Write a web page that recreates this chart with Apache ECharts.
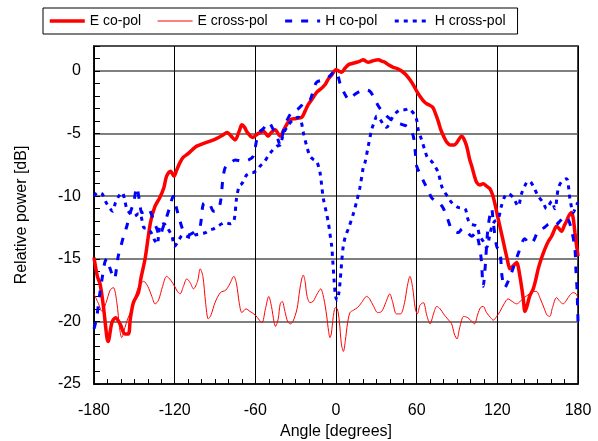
<!DOCTYPE html>
<html>
<head>
<meta charset="utf-8">
<script src="https://cdn.jsdelivr.net/npm/echarts@6/dist/echarts.min.js"></script>
<style>
    html, body { margin: 0; padding: 0; background: #fff; }
    #chart { width: 598px; height: 441px; }
</style>
</head>
<body>
<div id="chart"></div>
<script>
// angle [deg], relative power [dB]
const eCoPol = [
    [-180, -14.9], [-177.5, -16.4], [-175.5, -17.0], [-173, -18.8], [-170.5, -21.2], [-169.5, -21.6], [-166.7, -20.1],
    [-164, -19.7], [-160.6, -20.2], [-157, -21.0], [-154.4, -21.0], [-153, -19.8], [-150.7, -18.5], [-147, -17.7],
    [-145, -16.5], [-142, -15.0], [-138, -12.1], [-134.6, -10.8], [-131, -10.1], [-128, -9.3], [-126, -8.4],
    [-123, -8.0], [-120.5, -8.4], [-118.5, -7.9], [-116, -7.3], [-113.7, -6.9], [-110, -6.6], [-106, -6.2],
    [-103.6, -6.0], [-99, -5.8], [-93.7, -5.6], [-89, -5.4], [-84, -5.1], [-81, -4.9], [-78, -5.2], [-75, -5.5],
    [-72, -4.8], [-70, -4.3], [-68, -4.5], [-66, -4.9], [-62, -5.3], [-58, -5.0], [-54, -4.8], [-50.5, -5.2],
    [-48, -4.9], [-45.3, -4.7], [-41.6, -5.2], [-37.9, -4.5], [-34.2, -3.9], [-30, -3.8], [-25.5, -3.7],
    [-23, -3.2], [-20.8, -2.7], [-17.5, -2.2], [-14.4, -1.7], [-11, -1.4], [-8.2, -1.1], [-5.5, -0.6],
    [-3.2, -0.3], [0, 0.1], [2, 0.0], [4.2, -0.1], [6.5, 0.2], [9.2, 0.5], [12, 0.6], [15.4, 0.7], [18, 0.8],
    [20.3, 0.9], [22, 0.8], [24, 0.7], [27, 0.8], [31.5, 0.9], [34, 0.8], [36.4, 0.7], [39, 0.5], [42.6, 0.3],
    [45.5, 0.2], [48.8, 0.0], [52, -0.3], [55, -0.7], [58, -1.2], [60, -1.6], [63, -2.1], [66, -2.5], [69, -2.7],
    [72, -2.9], [74, -3.4], [76, -4.0], [78, -4.7], [80, -5.2], [82.5, -5.7], [85, -5.9], [88, -5.9], [90, -5.7],
    [93.5, -5.2], [95, -5.4], [97.2, -6.0], [99.5, -7.1], [101, -7.6], [103, -8.4], [104.6, -8.9], [107, -9.1],
    [109.5, -9.0], [112, -9.2], [114.5, -9.4], [116.5, -9.9], [118.2, -10.6], [120, -11.5], [121.9, -12.4],
    [124, -13.4], [125.6, -14.2], [127.5, -15.1], [129.4, -15.8], [131.5, -15.6], [134.3, -15.3], [136.8, -16.4],
    [139.3, -18.2], [140.5, -19.2], [142, -18.8], [144, -18.0], [146.7, -17.4], [148.5, -16.7], [150.4, -15.8],
    [153, -14.9], [155.4, -14.2], [158, -13.6], [160.4, -13.2], [162, -12.8], [164, -12.4], [166, -12.6],
    [167.8, -12.8], [170, -12.3], [171.5, -12.0], [173, -11.6], [175.2, -11.3], [176.5, -11.8], [177.7, -12.9],
    [179, -14.0], [180, -14.8]
];

const eCrossPol = [
    [-180, -17.8], [-177, -18.5], [-174, -19.2], [-171, -18.5], [-168, -17.5], [-165.6, -17.3], [-163, -18.5],
    [-161, -20.5], [-159.4, -21.3], [-157, -20.5], [-155, -19.8], [-153, -19.3], [-150, -18.3], [-147, -17.3],
    [-143, -16.8], [-140, -17.2], [-137, -18.0], [-134.5, -18.6], [-132, -18.3], [-129, -17.2], [-126, -16.4],
    [-123, -16.7], [-120, -17.2], [-118, -17.6], [-116, -17.8], [-113.5, -17.2], [-111, -16.6], [-108.5, -16.9],
    [-106, -17.4], [-103, -16.8], [-101, -15.8], [-99, -16.4], [-97, -18.5], [-95, -19.8], [-93, -19.5],
    [-90, -18.5], [-86, -17.7], [-82, -17.5], [-79, -17.0], [-76, -16.4], [-74, -17.0], [-72, -18.5],
    [-70, -19.3], [-67, -19.0], [-64, -19.2], [-60, -19.5], [-57, -19.9], [-55, -20.1], [-52.5, -19.0],
    [-50, -18.0], [-48, -18.8], [-46, -20.1], [-45, -20.4], [-43, -19.8], [-41.5, -18.6], [-40, -18.4],
    [-38, -19.2], [-36, -20.0], [-34, -20.2], [-32, -20.0], [-29, -19.0], [-27, -17.5], [-25.5, -16.6],
    [-24.3, -16.3], [-23, -16.8], [-21.5, -18.0], [-19.3, -18.5], [-17, -18.4], [-14, -17.8], [-11.4, -17.4],
    [-9, -18.2], [-7, -19.5], [-5.5, -20.8], [-4.5, -21.3], [-3.5, -21.0], [-2, -19.6], [-0.5, -18.9],
    [1, -19.0], [2.5, -20.0], [4, -21.8], [5.5, -22.4], [7, -21.5], [8.5, -20.2], [10.4, -19.3], [13, -19.1],
    [16, -18.9], [19, -18.5], [22.8, -18.0], [25, -18.2], [28, -18.8], [31, -19.3], [34, -19.2], [37, -18.5],
    [40, -17.8], [42, -18.4], [45, -19.4], [48, -19.4], [51, -18.5], [53, -17.2], [55, -16.4], [57, -17.3],
    [59, -19.0], [60.5, -19.4], [62.5, -18.7], [65, -18.5], [67.5, -19.5], [70, -20.2], [72.5, -19.4],
    [75, -18.8], [77.5, -19.0], [80, -19.4], [83, -19.8], [86, -20.2], [88, -21.0], [90, -21.4], [92, -20.5],
    [95, -19.6], [98, -19.7], [101, -20.0], [103, -20.2], [105.5, -19.4], [107.5, -18.9], [109.5, -18.8],
    [112, -19.3], [115, -19.7], [117, -19.9], [119.5, -19.6], [122, -19.2], [125, -18.6], [128, -18.2],
    [131, -18.4], [134.4, -18.6], [137, -18.4], [140, -18.1], [144, -17.8], [147, -17.6], [149, -17.6],
    [152, -18.2], [155, -19.0], [157, -19.5], [159, -19.6], [161, -18.9], [164, -18.1], [166.5, -18.4],
    [169, -18.6], [171.5, -18.3], [174, -17.9], [176.5, -17.7], [178.5, -17.8], [180, -18.1]
];

const hCoPol = [
    [-180, -20.6], [-178, -19.7], [-176, -18.0], [-174, -16.6], [-172, -15.3], [-170.5, -15.0], [-168, -15.8],
    [-165, -16.6], [-162, -14.8], [-160, -14.0], [-158, -13.2], [-155.6, -12.4], [-153, -11.3], [-150.5, -10.5],
    [-148.2, -9.3], [-146, -10.5], [-144.5, -11.3], [-142, -11.2], [-139.6, -11.0], [-137, -11.5],
    [-135.8, -11.9], [-133.3, -12.6], [-131, -13.2], [-129, -12.6], [-127, -12.0], [-124, -11.0],
    [-121, -10.0], [-119, -10.8], [-116, -12.0], [-113, -12.9], [-110, -13.1], [-106, -12.9], [-103, -12.6],
    [-101, -12.4], [-98.6, -10.6], [-95, -10.5], [-91, -11.2], [-88.7, -11.2], [-86, -10.5], [-84, -8.5],
    [-82, -7.6], [-78, -7.3], [-75, -7.1], [-70, -7.2], [-65, -7.1], [-61.5, -6.8], [-59, -5.5], [-57, -4.9],
    [-54, -4.6], [-50, -4.1], [-47, -4.6], [-44, -5.2], [-41.6, -5.9], [-39, -4.7], [-36.7, -4.0], [-33, -3.3],
    [-29, -3.1], [-26, -2.8], [-23, -2.4], [-19.3, -2.3], [-17, -1.6], [-14.4, -0.9], [-9.4, -0.7],
    [-4.5, -0.4], [-1, 0.0], [1, -0.2], [3, -1.0], [5.4, -1.6], [8, -2.1], [10, -2.3], [12.5, -2.0],
    [15, -1.8], [18, -1.6], [21.6, -1.5], [25, -1.6], [27.7, -2.0], [31.5, -2.8], [35, -3.3], [40, -3.8],
    [45, -4.1], [50, -4.3], [52.5, -4.4], [55, -4.7], [57.5, -5.2], [59, -6.5], [60, -7.6], [63, -8.3],
    [66, -9.0], [68, -9.4], [71, -10.1], [74, -10.4], [77.3, -10.6], [80, -11.0], [83, -11.8], [86, -12.6],
    [91, -12.9], [94, -12.6], [97, -12.8], [101, -13.2], [104, -12.9], [106, -13.6], [108, -15.0],
    [109.5, -17.2], [111, -15.6], [113, -12.6], [115.8, -11.0], [117, -12.1], [119.5, -14.0], [122, -14.5],
    [123.5, -16.4], [125.6, -17.3], [128, -16.8], [130.6, -16.1], [135.5, -14.6], [140.5, -13.4],
    [144, -13.8], [146.7, -13.6], [150.4, -12.8], [155, -12.5], [159, -12.2], [163, -12.3], [166.5, -12.0],
    [170, -11.6], [172.5, -11.8], [175, -12.6], [177.7, -14.2], [178.5, -16.0], [179.3, -17.5], [180, -20.0]
];

const hCrossPol = [
    [-180, -10.0], [-177, -9.7], [-174, -9.8], [-171, -10.5], [-168, -11.0], [-166, -11.2], [-164, -10.5],
    [-161, -9.9], [-159, -9.7], [-157, -10.4], [-155.6, -11.0], [-153, -11.4], [-150, -11.6], [-147, -11.4],
    [-145.7, -11.4], [-143, -12.5], [-140, -12.6], [-137, -13.0], [-135, -13.5], [-133, -13.8], [-131, -12.4],
    [-128, -12.2], [-125, -12.6], [-122, -13.2], [-120, -14.0], [-117, -13.5], [-114, -13.1], [-111, -13.2],
    [-108, -13.3], [-105, -13.1], [-101, -13.0], [-97, -12.9], [-94, -12.7], [-91, -12.6], [-88, -12.4],
    [-85, -12.2], [-83, -12.1], [-79, -12.2], [-76, -12.0], [-74, -10.2], [-72, -9.2], [-70, -9.0],
    [-68, -8.6], [-66.4, -8.3], [-63, -8.1], [-61.5, -8.1], [-58, -7.8], [-56.5, -7.6], [-53, -7.2],
    [-50, -6.7], [-47, -6.3], [-44, -6.0], [-41.6, -5.9], [-39, -5.0], [-36, -4.4], [-32, -3.9], [-28, -3.7],
    [-26, -4.0], [-24.3, -4.9], [-21.8, -6.0], [-19.3, -6.8], [-16.5, -7.1], [-14.4, -7.2], [-11.9, -8.1],
    [-10.6, -9.2], [-9.4, -10.2], [-7.4, -11.2], [-5.7, -12.1], [-4.5, -13.0], [-3.2, -14.0], [-2.5, -15.0],
    [-2, -15.8], [-1.5, -16.6], [-0.3, -18.0], [1, -18.3], [2, -17.8], [3, -16.9], [4.2, -15.3], [5.4, -14.0],
    [7, -13.2], [9.2, -12.6], [12.9, -11.4], [15.4, -10.4], [17.8, -9.3], [20.3, -7.7], [21.6, -7.3],
    [24, -6.0], [26.5, -4.7], [29, -3.9], [30.3, -3.6], [33, -3.9], [35.5, -4.3], [37.7, -4.5], [40, -4.1],
    [42.5, -3.6], [45, -3.3], [48, -3.1], [51.3, -3.1], [54, -3.0], [56.3, -3.2], [58.5, -3.5], [60, -3.9],
    [61.2, -4.7], [63.7, -5.5], [66, -6.3], [68, -6.9], [71, -7.2], [73.6, -7.6], [76, -8.1], [78.6, -9.2],
    [81, -9.7], [83.5, -10.1], [86, -10.5], [91, -10.9], [96, -11.0], [98, -11.8], [100, -12.2],
    [104.6, -12.4], [107, -13.2], [109.5, -13.6], [112, -14.1], [114, -13.3], [116, -12.4], [118, -12.0],
    [120.7, -11.8], [123, -10.8], [125.6, -10.0], [128, -9.8], [131.8, -10.1], [135.5, -10.8], [138, -9.8],
    [141.8, -8.9], [144, -8.8], [146.7, -9.2], [150.4, -10.0], [154, -10.5], [156.6, -11.0], [158.5, -10.7],
    [160.4, -10.4], [162.8, -11.0], [165.3, -9.4], [168, -8.8], [171.5, -8.6], [174, -10.2], [176.5, -11.3],
    [178.5, -10.8], [180, -10.5]
];

const seriesNames = ["E co-pol", "E cross-pol", "H co-pol", "H cross-pol"];
const xTicks = [-180, 180, 60];
const yTicks = [-25, 2, 5];

const FONT = "Liberation Sans, Arial, sans-serif";

function lineSeries(name, data, lineStyle) {
    return {
        name: name,
        type: "line",
        data: data,
        symbol: "none",
        showSymbol: false,
        smooth: 0.3,
        itemStyle: { color: lineStyle.color },
        lineStyle: lineStyle
    };
}

const chart = echarts.init(document.getElementById("chart"), null, { renderer: "canvas" });

chart.setOption({
    animation: false,
    grid: {
        left: 94,
        right: 20,
        top: 46,
        bottom: 57,
        containLabel: false,
        outerBoundsMode: "none",
        show: true,
        borderColor: "#000",
        borderWidth: 1.5
    },
    legend: {
        left: 43,
        top: 8,
        padding: [6, 12, 6, 5],
        itemGap: 16,
        itemWidth: 35,
        itemHeight: 14,
        borderColor: "#000",
        borderWidth: 1,
        itemStyle: { opacity: 0 },
        lineStyle: { width: "inherit" },
        textStyle: {
            fontFamily: FONT,
            fontSize: 14,
            color: "#000"
        },
        data: seriesNames
    },
    xAxis: {
        type: "value",
        min: xTicks[0],
        max: xTicks[1],
        interval: xTicks[2],
        name: "Angle [degrees]",
        nameLocation: "middle",
        nameGap: 39,
        nameTextStyle: { fontFamily: FONT, fontSize: 16, color: "#000" },
        axisLine: { onZero: false, lineStyle: { color: "#000", width: 1.5 } },
        axisTick: { show: true, inside: true, length: 5, lineStyle: { color: "#000" } },
        minorTick: { show: true, splitNumber: 6, length: 5, lineStyle: { color: "#000" } },
        axisLabel: { fontFamily: FONT, fontSize: 16, color: "#000", margin: 19 },
        splitLine: { show: true, lineStyle: { color: "#000", width: 1 } }
    },
    yAxis: [
        {
            type: "value",
            position: "left",
            min: yTicks[0],
            max: yTicks[1],
            interval: yTicks[2],
            name: "Relative power [dB]",
            nameLocation: "middle",
            nameGap: 64,
            nameTextStyle: { fontFamily: FONT, fontSize: 16, color: "#000" },
            axisLine: { show: true, onZero: false, lineStyle: { color: "#000", width: 1.5 } },
            axisTick: { show: true, inside: true, length: 5, lineStyle: { color: "#000" } },
            axisLabel: { fontFamily: FONT, fontSize: 16, color: "#000", margin: 13, showMaxLabel: false },
            splitLine: { show: true, lineStyle: { color: "#555", width: 1.5 } }
        },
        {
            // minor 1 dB ticks
            type: "value",
            position: "left",
            min: yTicks[0],
            max: yTicks[1],
            interval: 1,
            axisLine: { show: false, onZero: false },
            axisTick: { show: true, inside: true, length: 6, lineStyle: { color: "#000" } },
            axisLabel: { show: false },
            splitLine: { show: false }
        }
    ],
    series: [
        lineSeries(seriesNames[0], eCoPol, { color: "#ff0000", width: 3.5, type: "solid" }),
        lineSeries(seriesNames[1], eCrossPol, { color: "#ff0000", width: 1, type: "solid" }),
        lineSeries(seriesNames[2], hCoPol, { color: "#0000ff", width: 3, type: [7, 9] }),
        lineSeries(seriesNames[3], hCrossPol, { color: "#0000ff", width: 3, type: [4, 5] })
    ]
});
</script>
</body>
</html>
